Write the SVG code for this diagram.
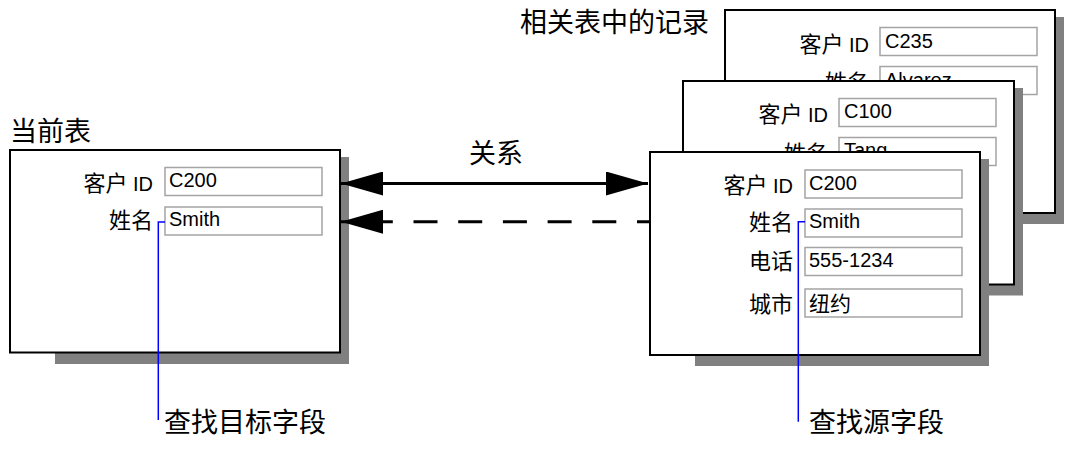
<svg xmlns="http://www.w3.org/2000/svg" width="1092" height="451" viewBox="0 0 1092 451">
<style>
  text { font-family: "Liberation Sans", "Noto Sans CJK SC", sans-serif; fill: #000; }
  .title { font-size: 27px; }
  .lbl { font-size: 20px; text-anchor: end; }
  .cjk { font-size: 22px; }
  .val { font-size: 20px; }
  .valc { font-size: 21px; }
  .box { fill: #fff; stroke: #000; stroke-width: 2; }
  .shadow { fill: #808080; stroke: none; }
  .field { fill: #fff; stroke: #a4a4a4; stroke-width: 1.5; }
  .rel { stroke: #000; stroke-width: 3; fill: none; }
  .lead { stroke: #0000ff; stroke-width: 1.5; fill: none; }
</style>
<defs>
  <marker id="ah" viewBox="0 0 42 24" refX="42" refY="12" markerWidth="42" markerHeight="24" markerUnits="userSpaceOnUse" orient="auto-start-reverse">
    <path d="M0,0 L42,12 L0,24 Z" fill="#000" stroke="none"/>
  </marker>
</defs>
<rect width="1092" height="451" fill="#fff"/>

<text class="title" x="520" y="31.5">相关表中的记录</text>

<g id="record-c235">
  <rect class="shadow" x="770" y="17" width="294" height="207"/>
  <rect class="box" x="725" y="10" width="330" height="203"/>
  <text class="lbl" x="869" y="51.5"><tspan class="cjk">客户</tspan> ID</text>
  <rect class="field" x="880" y="27.5" width="157" height="28"/>
  <text class="val" x="885" y="48">C235</text>
  <text class="lbl" x="869" y="90"><tspan class="cjk">姓名</tspan></text>
  <rect class="field" x="880" y="66.5" width="157" height="28"/>
  <text class="val" x="885" y="86.7">Alvarez</text>
</g>

<g id="record-c100">
  <rect class="shadow" x="728" y="88" width="295" height="207.5"/>
  <rect class="box" x="683" y="81" width="331" height="203.5"/>
  <text class="lbl" x="828" y="121.5"><tspan class="cjk">客户</tspan> ID</text>
  <rect class="field" x="839" y="98.5" width="157" height="28"/>
  <text class="val" x="844" y="118.3">C100</text>
  <text class="lbl" x="828" y="160.5"><tspan class="cjk">姓名</tspan></text>
  <rect class="field" x="839" y="137.5" width="157" height="28"/>
  <text class="val" x="844" y="157.3">Tang</text>
</g>

<g id="current-table">
  <text class="title" x="10" y="141">当前表</text>
  <rect class="shadow" x="55" y="157" width="294" height="207"/>
  <rect class="box" x="10" y="150" width="330" height="202.5"/>
  <text class="lbl" x="153" y="191"><tspan class="cjk">客户</tspan> ID</text>
  <rect class="field" x="165" y="167.5" width="157" height="28"/>
  <text class="val" x="169" y="187.3">C200</text>
  <text class="lbl" x="153" y="227.5"><tspan class="cjk">姓名</tspan></text>
  <rect class="field" x="165" y="207" width="157" height="28"/>
  <text class="val" x="169" y="226">Smith</text>
</g>

<g id="record-c200">
  <rect class="shadow" x="695" y="159" width="294" height="207"/>
  <rect class="box" x="650" y="152" width="330" height="203"/>
  <text class="lbl" x="793" y="193"><tspan class="cjk">客户</tspan> ID</text>
  <rect class="field" x="805" y="170" width="157" height="28"/>
  <text class="val" x="809" y="190">C200</text>
  <text class="lbl" x="793" y="230"><tspan class="cjk">姓名</tspan></text>
  <rect class="field" x="805" y="209" width="157" height="28"/>
  <text class="val" x="809" y="228.3">Smith</text>
  <text class="lbl" x="793" y="268.5"><tspan class="cjk">电话</tspan></text>
  <rect class="field" x="805" y="247.5" width="157" height="28"/>
  <text class="val" x="809" y="266.7">555-1234</text>
  <text class="lbl" x="793" y="312"><tspan class="cjk">城市</tspan></text>
  <rect class="field" x="805" y="289" width="157" height="28"/>
  <text class="valc" x="809" y="311">纽约</text>
</g>

<g id="connectors">
  <path class="rel" d="M341,183.5 L648,183.5" marker-start="url(#ah)" marker-end="url(#ah)"/>
  <text class="title" x="496" y="163" text-anchor="middle">关系</text>
  <path class="rel" d="M650,221.7 L341,221.7" stroke-dasharray="24 20.7" stroke-dashoffset="11" marker-end="url(#ah)"/>
  <path class="lead" d="M165,222 H158.3 V420"/>
  <path class="lead" d="M805,221.7 H798.3 V421.7"/>
</g>

<g id="lookup-target-label">
  <text class="title" x="164" y="431.5">查找目标字段</text>
</g>
<g id="lookup-source-label">
  <text class="title" x="809" y="431.5">查找源字段</text>
</g>
</svg>
